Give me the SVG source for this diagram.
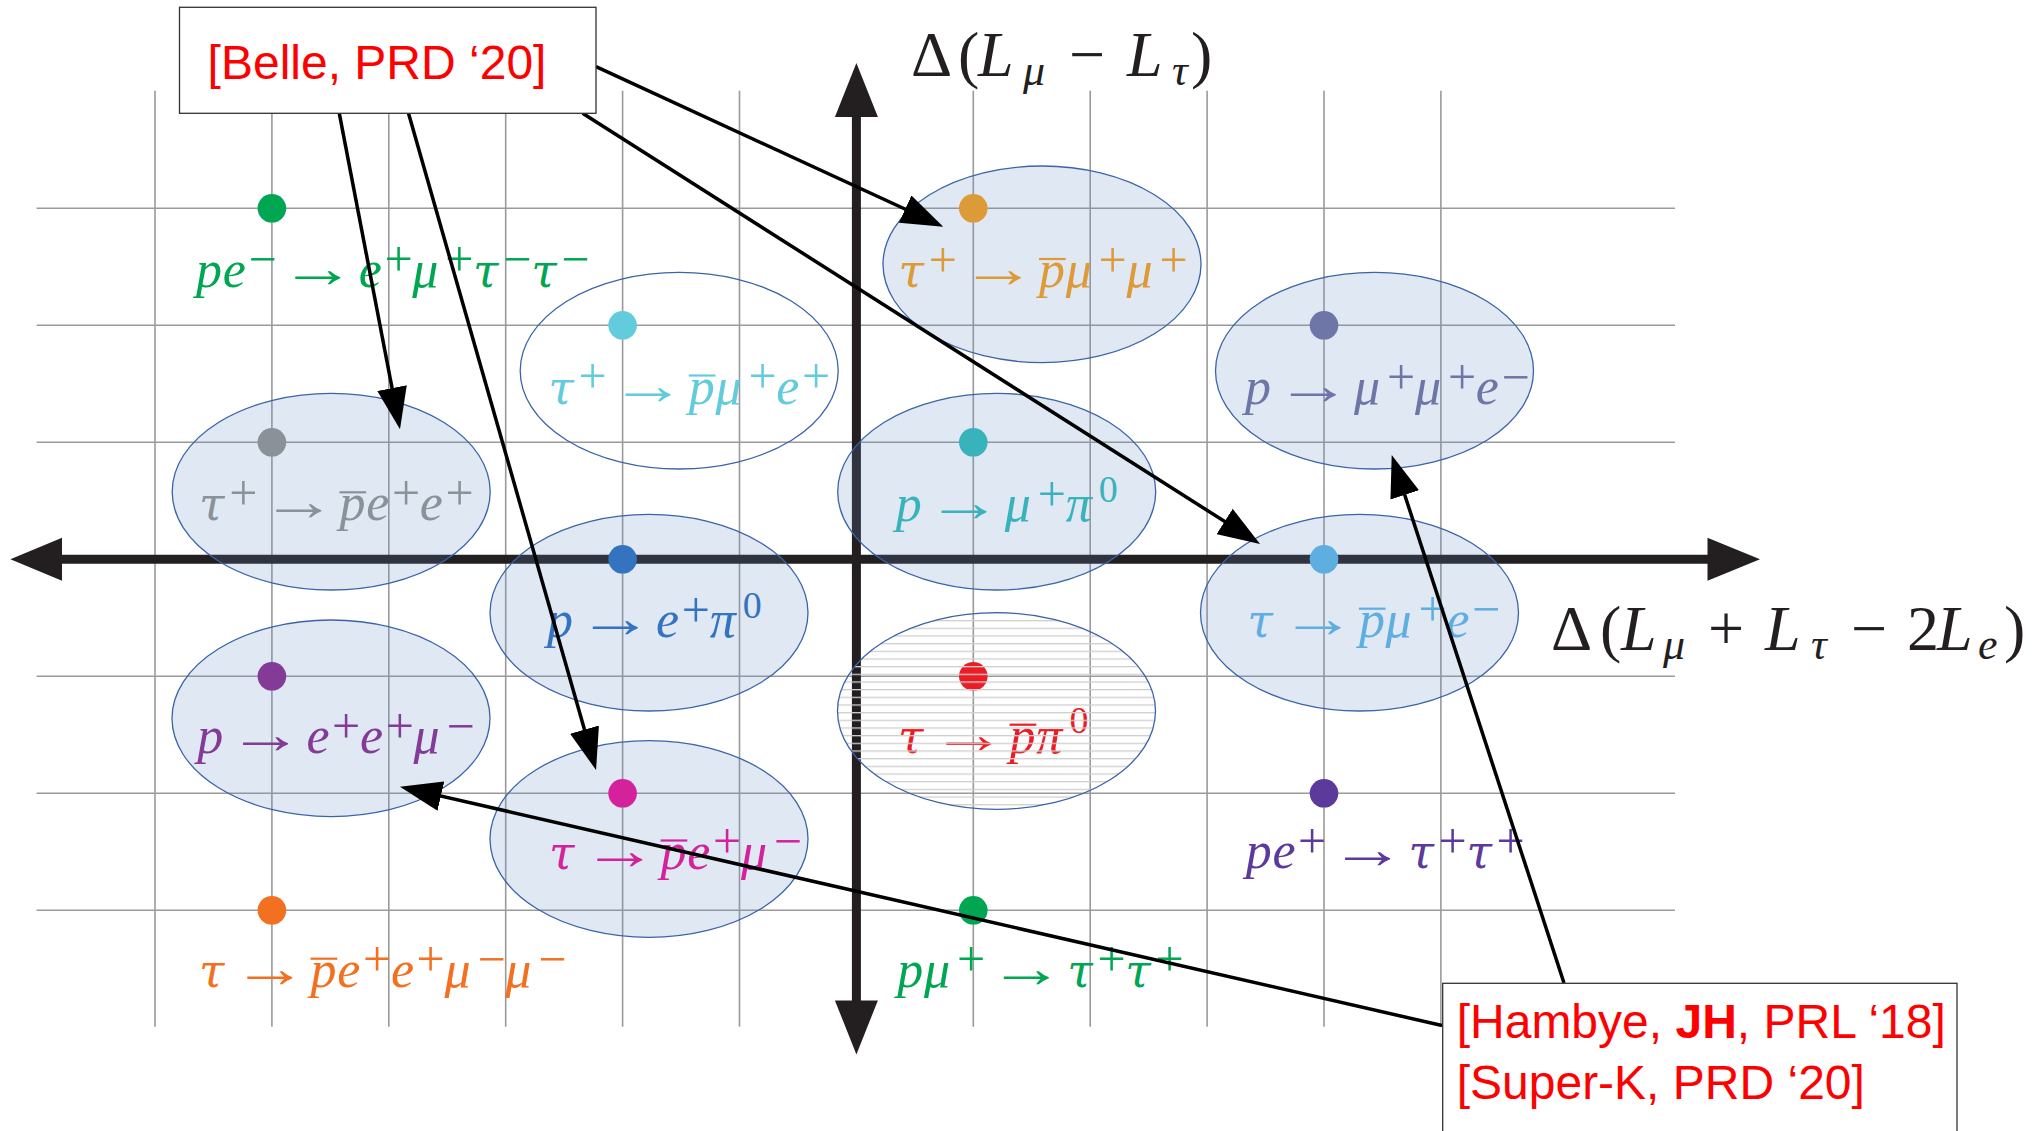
<svg xmlns="http://www.w3.org/2000/svg" width="2036" height="1131" viewBox="0 0 2036 1131">
<style>
.grid line{stroke:#9a9a9a;stroke-width:1.6}
.m{font-family:"Liberation Serif","DejaVu Serif",serif;font-style:italic;font-size:52px}
.m .t{font-family:"DejaVu Serif","Liberation Serif",serif;font-size:46px}
.sp{font-style:normal;font-size:50px}
.sz{font-style:normal;font-size:38px}
.arw{font-family:"Liberation Serif","DejaVu Serif",serif;font-size:56px}
.ax{font-family:"Liberation Serif","DejaVu Serif",serif;font-size:64px;fill:#231f20}
.ax .i{font-style:italic}
.ax .sb{font-style:italic;font-size:44px}
.el{fill:rgb(95,138,194);fill-opacity:0.2;stroke:#3b64a8;stroke-width:1.3}
.elw{fill:none;stroke:#3b64a8;stroke-width:1.3}
.ov{stroke-width:2.2}
.box{fill:#fff;stroke:#333;stroke-width:1.3}
.ref{font-family:"Liberation Sans",Arial,sans-serif;font-size:48px;fill:#ff0000}
.conn line{stroke:#000;stroke-width:3.5;marker-end:url(#ah)}
</style>
<defs>
<marker id="ah" markerUnits="userSpaceOnUse" markerWidth="42" markerHeight="30" refX="32" refY="15" orient="auto"><path d="M0,0 L42,15 L0,30 z" fill="#000"/></marker>
<pattern id="hatch" patternUnits="userSpaceOnUse" x="0" y="620" width="20" height="7.67"><rect x="0" y="0" width="20" height="1.3" fill="#cfcfcf"/></pattern>
</defs>
<rect width="2036" height="1131" fill="#fff"/>
<g class="grid">
<line x1="155" y1="90.7" x2="155" y2="1026.7"/><line x1="271.9" y1="90.7" x2="271.9" y2="1026.7"/><line x1="388.8" y1="90.7" x2="388.8" y2="1026.7"/><line x1="505.7" y1="90.7" x2="505.7" y2="1026.7"/><line x1="622.6" y1="90.7" x2="622.6" y2="1026.7"/><line x1="739.5" y1="90.7" x2="739.5" y2="1026.7"/><line x1="856.4" y1="90.7" x2="856.4" y2="1026.7"/><line x1="973.3" y1="90.7" x2="973.3" y2="1026.7"/><line x1="1090.2" y1="90.7" x2="1090.2" y2="1026.7"/><line x1="1207.1" y1="90.7" x2="1207.1" y2="1026.7"/><line x1="1324" y1="90.7" x2="1324" y2="1026.7"/><line x1="1440.9" y1="90.7" x2="1440.9" y2="1026.7"/>
<line x1="36.6" y1="208.3" x2="1675" y2="208.3"/><line x1="36.6" y1="325.3" x2="1675" y2="325.3"/><line x1="36.6" y1="442.3" x2="1675" y2="442.3"/><line x1="36.6" y1="559.3" x2="1675" y2="559.3"/><line x1="36.6" y1="676.3" x2="1675" y2="676.3"/><line x1="36.6" y1="793.3" x2="1675" y2="793.3"/><line x1="36.6" y1="910.3" x2="1675" y2="910.3"/>
</g>
<g id="axes" fill="#231f20">
<line x1="55" y1="559.3" x2="1712" y2="559.3" stroke="#231f20" stroke-width="9"/>
<polygon points="10.4,559.3 62,537.8 62,580.8"/>
<polygon points="1760,559.3 1707.5,537.8 1707.5,580.8"/>
<line x1="856.4" y1="110" x2="856.4" y2="1006" stroke="#231f20" stroke-width="9"/>
<polygon points="856.4,63 834.9,117 877.9,117"/>
<polygon points="856.4,1054.4 834.9,1000.4 877.9,1000.4"/>
<text class="ax"><tspan x="911" y="76">Δ</tspan><tspan x="958" y="76">(</tspan><tspan class="i" x="978" y="76">L</tspan><tspan class="sb" x="1023" y="85">μ</tspan><tspan x="1069" y="76">−</tspan><tspan class="i" x="1127" y="76">L</tspan><tspan class="sb" x="1172" y="85">τ</tspan><tspan x="1191" y="76">)</tspan></text>
<text class="ax"><tspan x="1551" y="650">Δ</tspan><tspan x="1600" y="650">(</tspan><tspan class="i" x="1621" y="650">L</tspan><tspan class="sb" x="1663" y="659">μ</tspan><tspan x="1708" y="650">+</tspan><tspan class="i" x="1765" y="650">L</tspan><tspan class="sb" x="1811" y="659">τ</tspan><tspan x="1851" y="650">−</tspan><tspan x="1907" y="650">2</tspan><tspan class="i" x="1937" y="650">L</tspan><tspan class="sb" x="1978" y="659">e</tspan><tspan x="2004" y="650">)</tspan></text>
</g>
<g id="n-pe-eumutautau">
<circle cx="271.9" cy="208.3" r="14.3" fill="#00a651"/>
<text class="m" fill="#00a651"><tspan x="196" y="286.5">p</tspan><tspan x="222.7" y="286.5">e</tspan><tspan class="sp" x="248.4" y="276">−</tspan><tspan x="358.7" y="286.5">e</tspan><tspan class="sp" x="384.4" y="276">+</tspan><tspan x="412.3" y="286.5">μ</tspan><tspan class="sp" x="445.3" y="276">+</tspan><tspan class="t" x="473.1" y="286.5">τ</tspan><tspan class="sp" x="503.3" y="276">−</tspan><tspan class="t" x="531.2" y="286.5">τ</tspan><tspan class="sp" x="561.3" y="276">−</tspan></text>
<text class="arw" fill="#00a651" x="279.6" y="286.5" textLength="76" lengthAdjust="spacingAndGlyphs">→</text>
</g>
<g id="n-tau-pmue">
<ellipse class="elw" cx="679.2" cy="370.7" rx="159" ry="98.3"/>
<circle cx="622.6" cy="325.3" r="14.3" fill="#62cbdc"/>
<text class="m" fill="#62cbdc"><tspan class="t" x="548.3" y="403.5">τ</tspan><tspan class="sp" x="578.5" y="393">+</tspan><tspan x="688.8" y="403.5">p</tspan><tspan x="715.5" y="403.5">μ</tspan><tspan class="sp" x="748.4" y="393">+</tspan><tspan x="776.3" y="403.5">e</tspan><tspan class="sp" x="802" y="393">+</tspan></text>
<text class="arw" fill="#62cbdc" x="609.7" y="403.5" textLength="76" lengthAdjust="spacingAndGlyphs">→</text>
<line class="ov" x1="688.8" y1="375.5" x2="715.5" y2="375.5" stroke="#62cbdc"/>
</g>
<g id="n-tau-pee">
<ellipse class="el" cx="331.2" cy="491.7" rx="159" ry="98.3"/>
<circle cx="271.9" cy="442.3" r="14.3" fill="#8b9199"/>
<text class="m" fill="#8b9199"><tspan class="t" x="199" y="520.3">τ</tspan><tspan class="sp" x="229.2" y="509.8">+</tspan><tspan x="339.5" y="520.3">p</tspan><tspan x="366.2" y="520.3">e</tspan><tspan class="sp" x="391.9" y="509.8">+</tspan><tspan x="419.7" y="520.3">e</tspan><tspan class="sp" x="445.4" y="509.8">+</tspan></text>
<text class="arw" fill="#8b9199" x="260.4" y="520.3" textLength="76" lengthAdjust="spacingAndGlyphs">→</text>
<line class="ov" x1="339.5" y1="492.3" x2="366.2" y2="492.3" stroke="#8b9199"/>
</g>
<g id="n-p-epi">
<ellipse class="el" cx="649" cy="612.7" rx="159" ry="98.3"/>
<circle cx="622.6" cy="559.3" r="14.3" fill="#3473c0"/>
<text class="m" fill="#3473c0"><tspan x="547" y="637">p</tspan><tspan x="656.1" y="637">e</tspan><tspan class="sp" x="681.8" y="626.5">+</tspan><tspan x="709.7" y="637">π</tspan><tspan class="sz" x="742.8" y="617.5">0</tspan></text>
<text class="arw" fill="#3473c0" x="577" y="637" textLength="76" lengthAdjust="spacingAndGlyphs">→</text>
</g>
<g id="n-p-eemu">
<ellipse class="el" cx="331" cy="718.3" rx="159" ry="98.3"/>
<circle cx="271.9" cy="676.3" r="14.3" fill="#833b97"/>
<text class="m" fill="#833b97"><tspan x="197.3" y="753.2">p</tspan><tspan x="306.4" y="753.2">e</tspan><tspan class="sp" x="332.1" y="742.7">+</tspan><tspan x="360" y="753.2">e</tspan><tspan class="sp" x="385.7" y="742.7">+</tspan><tspan x="413.6" y="753.2">μ</tspan><tspan class="sp" x="446.6" y="742.7">−</tspan></text>
<text class="arw" fill="#833b97" x="227.3" y="753.2" textLength="76" lengthAdjust="spacingAndGlyphs">→</text>
</g>
<g id="n-tau-pemu">
<ellipse class="el" cx="649" cy="839" rx="159" ry="98.3"/>
<circle cx="622.6" cy="793.3" r="14.3" fill="#d4229c"/>
<text class="m" fill="#d4229c"><tspan class="t" x="549" y="868.5">τ</tspan><tspan x="660.6" y="868.5">p</tspan><tspan x="687.3" y="868.5">e</tspan><tspan class="sp" x="713" y="858">+</tspan><tspan x="740.9" y="868.5">μ</tspan><tspan class="sp" x="773.8" y="858">−</tspan></text>
<text class="arw" fill="#d4229c" x="581.5" y="868.5" textLength="76" lengthAdjust="spacingAndGlyphs">→</text>
<line class="ov" x1="660.6" y1="840.5" x2="687.3" y2="840.5" stroke="#d4229c"/>
</g>
<g id="n-tau-peemumu">
<circle cx="271.9" cy="910.3" r="14.3" fill="#f37021"/>
<text class="m" fill="#f37021"><tspan class="t" x="199" y="986.7">τ</tspan><tspan x="310.6" y="986.7">p</tspan><tspan x="337.3" y="986.7">e</tspan><tspan class="sp" x="363" y="976.2">+</tspan><tspan x="390.9" y="986.7">e</tspan><tspan class="sp" x="416.6" y="976.2">+</tspan><tspan x="444.4" y="986.7">μ</tspan><tspan class="sp" x="477.4" y="976.2">−</tspan><tspan x="505.3" y="986.7">μ</tspan><tspan class="sp" x="538.2" y="976.2">−</tspan></text>
<text class="arw" fill="#f37021" x="231.5" y="986.7" textLength="76" lengthAdjust="spacingAndGlyphs">→</text>
<line class="ov" x1="310.6" y1="958.7" x2="337.3" y2="958.7" stroke="#f37021"/>
</g>
<g id="n-tau-pmumu">
<ellipse class="el" cx="1042" cy="264.3" rx="159" ry="98.3"/>
<circle cx="973.3" cy="208.3" r="14.3" fill="#dd9a38"/>
<text class="m" fill="#dd9a38"><tspan class="t" x="898.5" y="287">τ</tspan><tspan class="sp" x="928.7" y="276.5">+</tspan><tspan x="1039" y="287">p</tspan><tspan x="1065.7" y="287">μ</tspan><tspan class="sp" x="1098.6" y="276.5">+</tspan><tspan x="1126.5" y="287">μ</tspan><tspan class="sp" x="1159.5" y="276.5">+</tspan></text>
<text class="arw" fill="#dd9a38" x="959.9" y="287" textLength="76" lengthAdjust="spacingAndGlyphs">→</text>
<line class="ov" x1="1039" y1="259" x2="1065.7" y2="259" stroke="#dd9a38"/>
</g>
<g id="n-p-mupi">
<ellipse class="el" cx="996.7" cy="491.7" rx="159" ry="98.3"/>
<circle cx="973.3" cy="442.3" r="14.3" fill="#38b3bc"/>
<text class="m" fill="#38b3bc"><tspan x="895.7" y="521">p</tspan><tspan x="1004.8" y="521">μ</tspan><tspan class="sp" x="1037.8" y="510.5">+</tspan><tspan x="1065.7" y="521">π</tspan><tspan class="sz" x="1098.8" y="501.5">0</tspan></text>
<text class="arw" fill="#38b3bc" x="925.7" y="521" textLength="76" lengthAdjust="spacingAndGlyphs">→</text>
</g>
<g id="n-tau-ppi">
<circle cx="973.3" cy="676.3" r="14.3" fill="#ec1c24"/>
<text class="m" fill="#ec1c24"><tspan class="t" x="898" y="752.7">τ</tspan><tspan x="1009.6" y="752.7">p</tspan><tspan x="1036.3" y="752.7">π</tspan><tspan class="sz" x="1069.4" y="733.2">0</tspan></text>
<text class="arw" fill="#ec1c24" x="930.5" y="752.7" textLength="76" lengthAdjust="spacingAndGlyphs">→</text>
<line class="ov" x1="1009.6" y1="724.7" x2="1036.3" y2="724.7" stroke="#ec1c24"/>
<ellipse cx="996.5" cy="711" rx="159" ry="98.3" fill="url(#hatch)" stroke="#3b64a8" stroke-width="1.3"/>
</g>
<g id="n-pmu-tautau">
<circle cx="973.3" cy="910.3" r="14.3" fill="#00a651"/>
<text class="m" fill="#00a651"><tspan x="897.3" y="986.7">p</tspan><tspan x="924" y="986.7">μ</tspan><tspan class="sp" x="956.9" y="976.2">+</tspan><tspan class="t" x="1067.3" y="986.7">τ</tspan><tspan class="sp" x="1097.4" y="976.2">+</tspan><tspan class="t" x="1125.3" y="986.7">τ</tspan><tspan class="sp" x="1155.5" y="976.2">+</tspan></text>
<text class="arw" fill="#00a651" x="988.1" y="986.7" textLength="76" lengthAdjust="spacingAndGlyphs">→</text>
</g>
<g id="n-p-mumue">
<ellipse class="el" cx="1374.5" cy="370.7" rx="159" ry="98.3"/>
<circle cx="1324" cy="325.3" r="14.3" fill="#6e75a7"/>
<text class="m" fill="#6e75a7"><tspan x="1245" y="404">p</tspan><tspan x="1354.1" y="404">μ</tspan><tspan class="sp" x="1387.1" y="393.5">+</tspan><tspan x="1415" y="404">μ</tspan><tspan class="sp" x="1447.9" y="393.5">+</tspan><tspan x="1475.8" y="404">e</tspan><tspan class="sp" x="1501.5" y="393.5">−</tspan></text>
<text class="arw" fill="#6e75a7" x="1275" y="404" textLength="76" lengthAdjust="spacingAndGlyphs">→</text>
</g>
<g id="n-tau-pmue-minus">
<ellipse class="el" cx="1359.5" cy="612.7" rx="159" ry="98.3"/>
<circle cx="1324" cy="559.3" r="14.3" fill="#5eaee1"/>
<text class="m" fill="#5eaee1"><tspan class="t" x="1247.3" y="636.7">τ</tspan><tspan x="1358.9" y="636.7">p</tspan><tspan x="1385.6" y="636.7">μ</tspan><tspan class="sp" x="1418.5" y="626.2">+</tspan><tspan x="1446.4" y="636.7">e</tspan><tspan class="sp" x="1472.1" y="626.2">−</tspan></text>
<text class="arw" fill="#5eaee1" x="1279.8" y="636.7" textLength="76" lengthAdjust="spacingAndGlyphs">→</text>
<line class="ov" x1="1358.9" y1="608.7" x2="1385.6" y2="608.7" stroke="#5eaee1"/>
</g>
<g id="n-pe-tautau">
<circle cx="1324" cy="793.3" r="14.3" fill="#5c3a9b"/>
<text class="m" fill="#5c3a9b"><tspan x="1245.7" y="868.3">p</tspan><tspan x="1272.4" y="868.3">e</tspan><tspan class="sp" x="1298.1" y="857.8">+</tspan><tspan class="t" x="1408.4" y="868.3">τ</tspan><tspan class="sp" x="1438.6" y="857.8">+</tspan><tspan class="t" x="1466.4" y="868.3">τ</tspan><tspan class="sp" x="1496.6" y="857.8">+</tspan></text>
<text class="arw" fill="#5c3a9b" x="1329.3" y="868.3" textLength="76" lengthAdjust="spacingAndGlyphs">→</text>
</g>
<g id="connectors" class="conn">
<line x1="339.3" y1="113.3" x2="398.1" y2="419.5"/>
<line x1="408.5" y1="113.3" x2="593.3" y2="760.4"/>
<line x1="596" y1="66.7" x2="934.2" y2="222.5"/>
<line x1="582.6" y1="113.3" x2="1251.6" y2="538.6"/>
<line x1="1442" y1="1025.5" x2="409.7" y2="788.9"/>
<line x1="1564" y1="983" x2="1394.8" y2="464.5"/>
</g>
<g id="belle">
<rect class="box" x="179.5" y="7.3" width="416.5" height="106"/>
<text class="ref" x="207.6" y="79.3">[Belle, PRD ‘20]</text>
</g>
<g id="hambye">
<rect class="box" x="1442.7" y="983.3" width="514.3" height="170"/>
<text class="ref"><tspan x="1456.7" y="1038.3">[Hambye, <tspan font-weight="bold">JH</tspan>, PRL ‘18]</tspan><tspan x="1456.7" y="1099.3">[Super-K, PRD ‘20]</tspan></text>
</g>
</svg>
